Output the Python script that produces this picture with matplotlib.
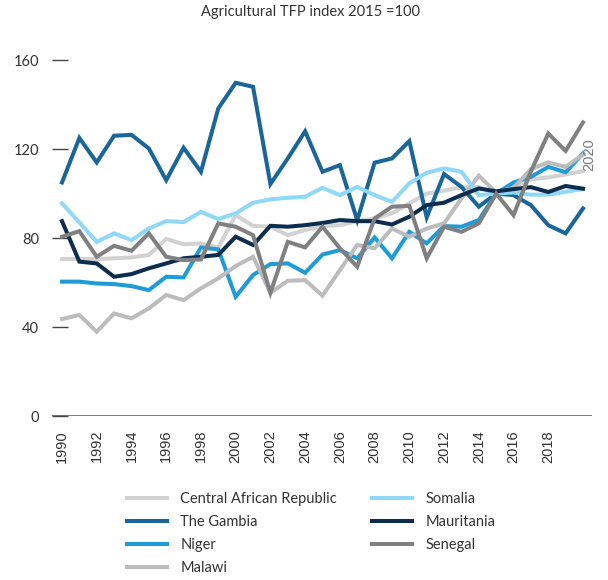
import matplotlib
matplotlib.use("Agg")
import matplotlib.pyplot as plt

years = list(range(1990, 2021))

car = [70.6, 70.6, 70.6, 70.9, 71.3, 72.4, 79.6, 77.2, 77.6, 75.8, 90.3, 85.5, 85.1, 81.3, 83.6,
       85.4, 85.8, 87.6, 88.8, 91.1, 95.6, 100.0, 101.3, 102.8, 103.0, 100.0, 103.0, 106.4, 107.3, 108.6, 110.1]
gambia = [105.0, 125.0, 114.0, 126.0, 126.4, 120.3, 106.0, 120.6, 109.8, 138.3, 149.8, 148.0, 104.3, 115.8, 128.0,
          109.8, 112.8, 88.0, 113.9, 115.8, 123.6, 89.3, 108.8, 103.0, 94.1, 100.0, 99.3, 94.8, 85.8, 82.1, 93.3]
niger = [60.4, 60.4, 59.6, 59.3, 58.4, 56.6, 62.6, 62.3, 75.8, 74.9, 53.6, 63.4, 68.3, 68.6, 64.4,
         72.6, 74.6, 70.9, 80.3, 70.9, 82.8, 77.6, 85.4, 85.1, 88.1, 100.0, 105.0, 107.5, 112.0, 109.6, 118.0]
malawi = [43.6, 45.4, 37.9, 46.1, 43.9, 48.4, 54.4, 52.1, 57.4, 61.9, 67.4, 71.6, 55.4, 60.8, 61.1,
          54.1, 65.6, 76.9, 75.4, 84.3, 80.6, 84.3, 86.6, 97.8, 108.0, 100.5, 102.6, 111.0, 114.0, 112.0, 117.5]
somalia = [95.6, 87.0, 78.3, 82.1, 79.1, 84.3, 87.6, 87.2, 91.8, 88.5, 91.1, 95.9, 97.4, 98.1, 98.6,
           102.6, 99.3, 103.0, 99.3, 96.3, 104.6, 109.4, 111.3, 109.8, 99.3, 100.0, 100.5, 99.5, 99.5, 100.8, 102.0]
mauritania = [87.6, 69.4, 68.6, 62.6, 63.8, 66.4, 68.6, 70.9, 71.6, 72.4, 80.6, 76.9, 85.5, 85.1, 85.8,
              86.8, 88.1, 87.6, 87.6, 86.1, 89.6, 94.8, 95.9, 99.3, 102.3, 101.0, 102.0, 102.9, 100.7, 103.4, 102.2]
senegal = [80.6, 83.1, 71.6, 76.5, 74.3, 82.1, 71.6, 70.1, 70.4, 86.6, 85.1, 81.3, 55.4, 78.3, 75.8,
           85.1, 75.4, 67.1, 88.8, 94.1, 94.5, 70.9, 85.1, 82.8, 86.6, 100.0, 90.3, 110.0, 127.0, 119.2, 132.0]

names = ["Central African Republic", "The Gambia", "Niger", "Malawi", "Somalia", "Mauritania", "Senegal"]
series = [car, gambia, niger, malawi, somalia, mauritania, senegal]
colors = ["#d2d2d2", "#1a6599", "#1f9bd7", "#bcbcbc", "#8fd8f8", "#0c2c50", "#808080"]

yticks = [0, 40, 80, 120, 160]
xticks = list(range(1990, 2020, 2))
title = "Agricultural TFP index 2015 =100"

fig = plt.figure(figsize=(6.08, 5.8), dpi=100)
ax = fig.add_axes([52/608, 1-416/580, 540/608, 367/580])

for name, vals, c in zip(names, series, colors):
    ax.plot(years, vals, color=c, lw=2.9, label=name, solid_joinstyle="miter")

ax.set_xlim(1990 - 10/17.37, 2020 + 9/17.37)
ax.set_ylim(0, 165)
for s in ax.spines.values():
    s.set_visible(False)
ax.axhline(0, color="#6e6e6e", lw=1.3, zorder=0)

ax.set_yticks(yticks)
ax.set_yticklabels([str(v) for v in yticks], fontfamily="Lato", fontsize=10.5, color="#333333")
ax.tick_params(axis="y", direction="in", length=11.5, width=1.0, color="#444444", pad=9.5)
ax.set_xticks(xticks)
ax.set_xticklabels([str(v) for v in xticks], rotation=90, fontfamily="Liberation Sans",
                   fontsize=10.5, color="#333333")
ax.tick_params(axis="x", length=0, pad=10)

ax.text(2020 + 0.35, 110, "2020", rotation=90, ha="center", va="bottom",
        fontfamily="Liberation Sans", fontsize=10.5, color="#7a7a7a")

fig.text(0.51, 1 - 12/580, title, ha="center", va="center", fontfamily="Lato",
         fontsize=10.5, color="#333333")

leg = fig.legend(loc="upper left", bbox_to_anchor=(127/608, 1 - 492/580), ncol=2, frameon=False,
                 prop={"family": "Lato", "size": 10.5}, handlelength=2.75, handletextpad=0.9,
                 columnspacing=2.4, labelspacing=0.62, borderpad=0, borderaxespad=0)
for t in leg.get_texts():
    t.set_color("#333333")

fig.savefig("out.png", dpi=100)
